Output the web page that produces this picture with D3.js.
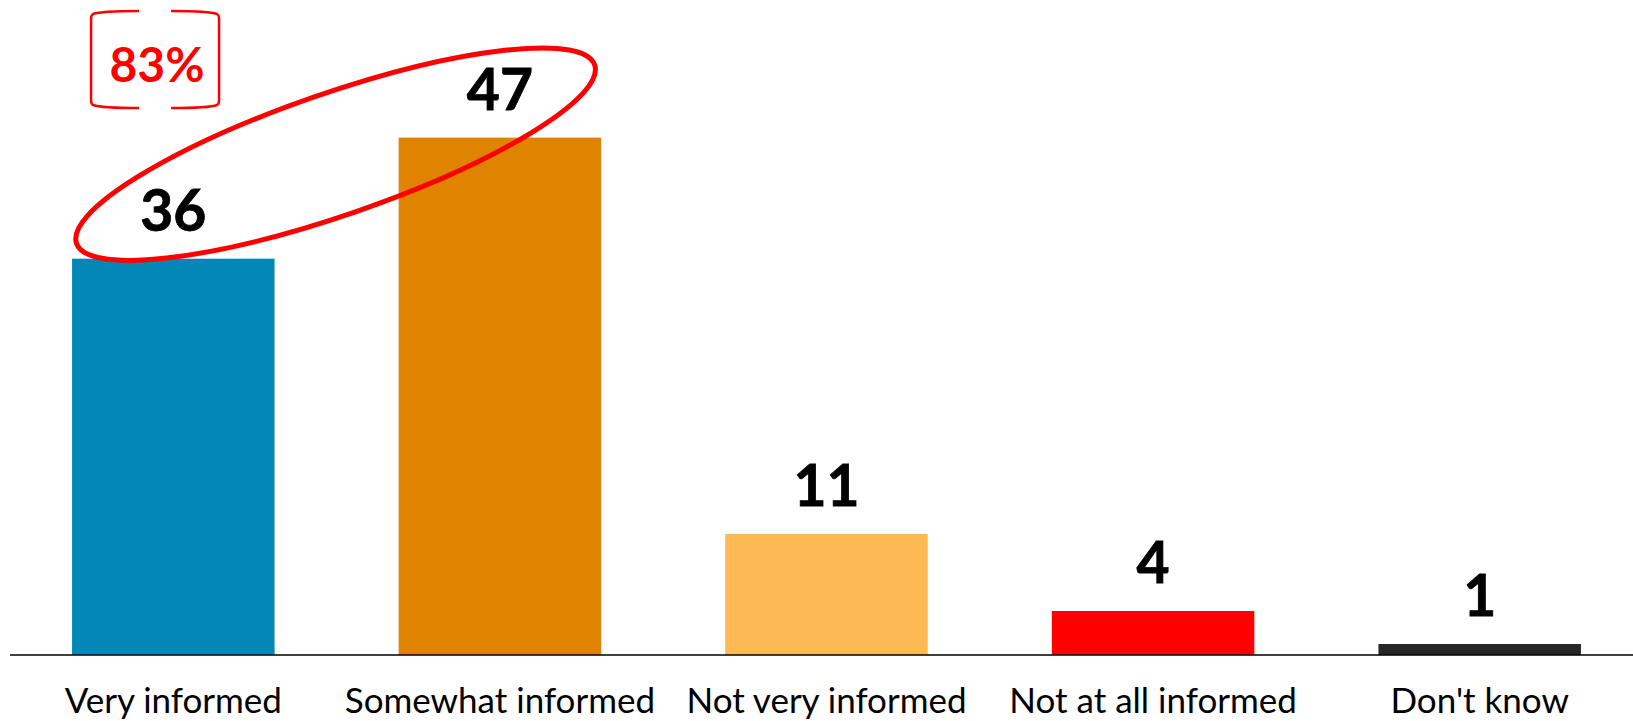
<!DOCTYPE html>
<html>
<head>
<meta charset="utf-8">
<script src="https://cdn.jsdelivr.net/npm/d3@7"></script>
<style>
  html, body { margin: 0; padding: 0; background: #fff; }
  svg { display: block; }
  .value { font-family: Lato, "Open Sans", sans-serif; font-weight: 700; fill: #000; }
  .cat { font-family: Lato, "Open Sans", sans-serif; fill: #000; }
  .note { font-family: Lato, "Open Sans", sans-serif; font-weight: 700; fill: #ff0000; }
</style>
</head>
<body>
<svg id="chart"></svg>
<script>
const categories = ["Very informed", "Somewhat informed", "Not very informed", "Not at all informed", "Don't know"];
const values = [36, 47, 11, 4, 1];
const barColors = ["#0387b7", "#e08300", "#fdb954", "#ff0000", "#262626"];

const width = 1633;
const height = 721;
const baseline = 655;

const svg = d3.select("#chart")
  .attr("width", width)
  .attr("height", height);

const x = d3.scaleBand()
  .domain(categories)
  .range([10, 1643])
  .paddingInner(0.38)
  .paddingOuter(0.19);

const y = d3.scaleLinear()
  .domain([0, 59.5])
  .range([baseline, 0]);

const color = d3.scaleOrdinal()
  .domain(categories)
  .range(barColors);

const data = categories.map((c, i) => ({ cat: c, value: values[i] }));

// bars
svg.selectAll("rect.bar")
  .data(data)
  .enter()
  .append("rect")
    .attr("class", "bar")
    .attr("x", d => x(d.cat))
    .attr("y", d => y(d.value))
    .attr("width", x.bandwidth())
    .attr("height", d => y(0) - y(d.value))
    .attr("fill", d => color(d.cat));

// baseline / category labels
const xAxis = svg.append("g")
  .attr("transform", `translate(0, ${baseline})`)
  .call(d3.axisBottom(x).tickSize(0).tickPadding(0));

xAxis.select(".domain")
  .attr("d", `M10,0H${width}`)
  .attr("stroke", "#000")
  .attr("stroke-width", 1.5);

xAxis.selectAll(".tick text")
  .attr("class", "cat")
  .attr("dy", null)
  .attr("y", 58)
  .attr("font-size", 35)
  .attr("font-family", null);

// value labels
svg.selectAll("text.value")
  .data(data)
  .enter()
  .append("text")
    .attr("class", "value")
    .attr("x", d => x(d.cat) + x.bandwidth() / 2)
    .attr("y", d => y(d.value) - 28)
    .attr("text-anchor", "middle")
    .attr("font-size", 57)
    .attr("stroke", "#000")
    .attr("stroke-width", 0.8)
    .text(d => d.value);

// red ellipse round the first two bars' labels
const c0 = x(categories[0]) + x.bandwidth() / 2;
const c1 = x(categories[1]) + x.bandwidth() / 2;
const ey = (y(values[0]) + y(values[1])) / 2 - 44;

svg.append("ellipse")
  .attr("transform", `translate(${(c0 + c1) / 2 - 1}, ${ey}) rotate(-19)`)
  .attr("rx", 274)
  .attr("ry", 61)
  .attr("fill", "none")
  .attr("stroke", "#ff0000")
  .attr("stroke-width", 5);

// bracketed total
const bx0 = x(categories[0]) + 19;
const bx1 = bx0 + 128;
const by0 = 11;
const by1 = 108;
const bracket = svg.append("g")
  .attr("fill", "none")
  .attr("stroke", "#ff0000")
  .attr("stroke-width", 2.5);

bracket.append("path")
  .attr("d", `M${bx0 + 48},${by0} Q${bx0 + 10},${by0} ${bx0 + 2},${by0 + 3} Q${bx0},${by0 + 4} ${bx0},${by0 + 8}
              L${bx0},${by1 - 8} Q${bx0},${by1 - 4} ${bx0 + 2},${by1 - 3} Q${bx0 + 10},${by1} ${bx0 + 48},${by1}`);
bracket.append("path")
  .attr("d", `M${bx1 - 48},${by0} Q${bx1 - 10},${by0} ${bx1 - 2},${by0 + 3} Q${bx1},${by0 + 4} ${bx1},${by0 + 8}
              L${bx1},${by1 - 8} Q${bx1},${by1 - 4} ${bx1 - 2},${by1 - 3} Q${bx1 - 10},${by1} ${bx1 - 48},${by1}`);

svg.append("text")
  .attr("class", "note")
  .attr("x", (bx0 + bx1) / 2 + 2)
  .attr("y", 82)
  .attr("text-anchor", "middle")
  .attr("font-size", 48)
  .text(`${values[0] + values[1]}%`);
</script>
</body>
</html>
